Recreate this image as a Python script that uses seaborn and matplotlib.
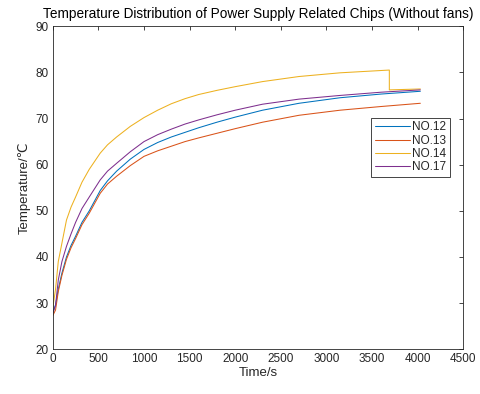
import numpy as np
import pandas as pd
import matplotlib
matplotlib.use("Agg")
import matplotlib.pyplot as plt
import seaborn as sns

# ---- data ----
time_s = [0, 30, 60, 100, 150, 200, 250, 320, 400, 520, 600, 700, 850, 1000, 1150, 1300,
          1450, 1600, 1800, 2000, 2300, 2700, 3150, 3600, 4030]
no12 = [28.0, 29.6, 33.0, 36.5, 40.0, 42.5, 44.5, 47.5, 50.0, 54.4, 56.5, 58.6, 61.2, 63.3, 64.8, 66.0,
        67.0, 68.0, 69.2, 70.3, 71.8, 73.3, 74.5, 75.3, 75.9]
no13 = [27.3, 28.5, 32.5, 36.0, 39.5, 42.0, 44.0, 47.0, 49.5, 53.8, 55.8, 57.5, 59.8, 61.8, 63.0, 64.0,
        65.0, 65.8, 66.8, 67.8, 69.2, 70.7, 71.8, 72.6, 73.3]
no17 = [27.8, 29.5, 35.0, 39.0, 42.3, 45.0, 47.5, 50.5, 53.0, 56.7, 58.6, 60.3, 62.8, 65.0, 66.5, 67.7,
        68.8, 69.7, 70.8, 71.8, 73.1, 74.2, 75.0, 75.7, 76.2]
time_s14 = [0, 30, 60, 100, 150, 200, 250, 320, 400, 520, 600, 700, 850, 1000, 1150, 1300,
            1450, 1600, 1800, 2000, 2300, 2700, 3150, 3600, 3690, 3690, 4030]
no14 = [29.0, 33.0, 39.0, 43.0, 48.0, 50.8, 53.0, 56.2, 59.0, 62.5, 64.3, 66.0, 68.3, 70.2, 71.8, 73.2,
        74.3, 75.2, 76.1, 76.9, 78.0, 79.1, 79.9, 80.4, 80.5, 76.2, 76.4]

series_names = ["NO.12", "NO.13", "NO.14", "NO.17"]
colors = ["#0072BD", "#D95319", "#EDB120", "#7E2F8E"]

frames = [
    pd.DataFrame({"Time": time_s, "Temp": no12, "Chip": "NO.12"}),
    pd.DataFrame({"Time": time_s, "Temp": no13, "Chip": "NO.13"}),
    pd.DataFrame({"Time": time_s14, "Temp": no14, "Chip": "NO.14"}),
    pd.DataFrame({"Time": time_s, "Temp": no17, "Chip": "NO.17"}),
]
df = pd.concat(frames, ignore_index=True)

sns.set_style("white")
plt.rcParams["font.family"] = ["Liberation Sans", "DejaVu Sans"]
axc = "#262626"

fig = plt.figure(figsize=(4.8, 3.94), dpi=100)
ax = fig.add_axes([0.110, 0.1135, 0.855, 0.820])

sns.lineplot(data=df, x="Time", y="Temp", hue="Chip", hue_order=series_names,
             palette=colors, estimator=None, sort=False, linewidth=0.75, ax=ax)

ax.set_xlim(0, 4500)
ax.set_ylim(20, 90)
ax.set_xticks(np.arange(0, 4501, 500))
ax.set_yticks(np.arange(20, 91, 10))
ax.tick_params(direction="in", length=3, width=0.6, colors=axc, labelsize=8.5,
               top=True, right=True, labeltop=False, labelright=False, pad=3)
for s in ax.spines.values():
    s.set_color(axc)
    s.set_linewidth(0.6)

ax.set_xlabel("Time/s", fontsize=9.5, color=axc, labelpad=1)
ax.set_ylabel("Temperature/℃", fontsize=9.5, color=axc, labelpad=3)
ax.set_title("Temperature Distribution of Power Supply Related Chips (Without fans)",
             fontsize=9.85, color="black", pad=6, x=0.5)

leg = ax.legend(loc="upper right", bbox_to_anchor=(0.968, 0.716), fontsize=8.5,
                frameon=True, fancybox=False, framealpha=1, edgecolor=axc,
                handlelength=3.0, handletextpad=0.2, borderpad=0.3, labelspacing=0.1,
                borderaxespad=0)
leg.get_frame().set_linewidth(0.6)

fig.savefig("out.png", dpi=100)
